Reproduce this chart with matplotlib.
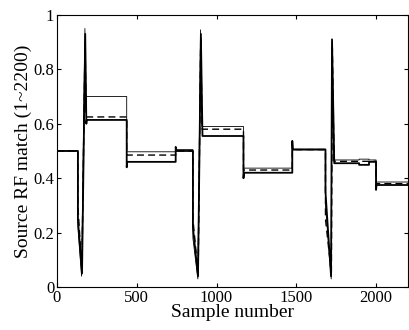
import matplotlib
matplotlib.use("Agg")
import matplotlib.pyplot as plt

# Breakpoints of the three match curves (sample number, match value)

thin_x = [0, 131, 131, 154, 175, 181, 437, 437, 744, 744, 852, 852, 883, 900,
          908, 1169, 1169, 1475, 1475, 1683, 1683, 1719, 1725, 1735, 1894,
          1894, 1956, 1956, 2000, 2000, 2200]
thin_y = [0.50, 0.50, 0.22, 0.04, 0.95, 0.70, 0.70, 0.497, 0.497, 0.505,
          0.505, 0.18, 0.03, 0.945, 0.59, 0.59, 0.437, 0.437, 0.507, 0.507,
          0.30, 0.03, 0.90, 0.467, 0.467, 0.47, 0.47, 0.467, 0.467, 0.386,
          0.386]

dash_x = [0, 131, 131, 156, 176, 183, 437, 437, 744, 744, 852, 852, 885, 901,
          910, 1169, 1169, 1475, 1475, 1683, 1683, 1720, 1726, 1737, 2000,
          2000, 2200]
dash_y = [0.50, 0.50, 0.30, 0.06, 0.90, 0.625, 0.625, 0.485, 0.485, 0.50,
          0.50, 0.25, 0.05, 0.92, 0.58, 0.58, 0.43, 0.43, 0.505, 0.505, 0.25,
          0.05, 0.88, 0.462, 0.462, 0.38, 0.38]

thick_x = [0, 131, 131, 157, 177, 184, 186, 437, 437, 440, 744, 744, 750, 852,
           852, 884, 902, 912, 1169, 1169, 1172, 1475, 1475, 1478, 1683, 1683,
           1718, 1724, 1738, 1894, 1894, 1956, 1956, 2000, 2000, 2003, 2200]
thick_y = [0.50, 0.50, 0.25, 0.05, 0.93, 0.60, 0.614, 0.614, 0.44, 0.46, 0.46,
           0.515, 0.50, 0.50, 0.22, 0.04, 0.93, 0.555, 0.555, 0.40, 0.42, 0.42,
           0.537, 0.505, 0.505, 0.35, 0.04, 0.91, 0.455, 0.455, 0.449, 0.449,
           0.46, 0.46, 0.357, 0.375, 0.375]

x_ticks = [0, 500, 1000, 1500, 2000]
y_ticks = [0, 0.2, 0.4, 0.6, 0.8, 1]
y_tick_labels = ["0", "0.2", "0.4", "0.6", "0.8", "1"]


def main():
    plt.rcParams["font.family"] = ["Liberation Serif", "DejaVu Serif"]
    plt.rcParams["font.size"] = 12

    fig = plt.figure(figsize=(4.1, 3.3), dpi=100)
    ax = fig.add_axes([0.139, 0.13, 0.856, 0.825])

    ax.plot(thin_x, thin_y, color="black", linewidth=0.6)
    ax.plot(dash_x, dash_y, color="black", linewidth=1.0, linestyle=(0, (5, 3)))
    ax.plot(thick_x, thick_y, color="black", linewidth=1.3)

    ax.set_xlim(0, 2200)
    ax.set_ylim(0, 1)
    ax.set_xticks(x_ticks)
    ax.set_yticks(y_ticks)
    ax.set_yticklabels(y_tick_labels)
    ax.tick_params(direction="in", top=True, right=True, length=3, pad=2)

    ax.set_xlabel("Sample number", fontsize=14, labelpad=-1)
    ax.set_ylabel("Source RF match (1~2200)", fontsize=14, labelpad=1)

    fig.savefig("out.png", dpi=100)


if __name__ == "__main__":
    main()
